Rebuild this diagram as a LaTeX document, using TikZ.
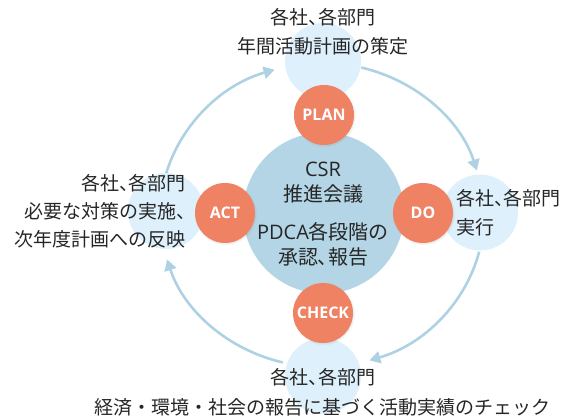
\documentclass[tikz,border=0pt]{standalone}
\usepackage{fontspec}
\setmainfont{Noto Sans CJK JP}
\newfontfamily\jpp[RawFeature=+palt]{Noto Sans CJK JP}
\newfontfamily\labfont{Open Sans}
\usetikzlibrary{arrows.meta,shadows}
\definecolor{orangeC}{HTML}{F08264}
\definecolor{coreC}{HTML}{B3D5E5}
\definecolor{paleC}{HTML}{DDF0FB}
\definecolor{arrowC}{HTML}{AED2E3}
\definecolor{txtC}{HTML}{262626}
\newcommand\tou{{\jpp 、}}
\begin{document}
\begin{tikzpicture}[x=1pt,y=1pt,
  pale/.style={circle,fill=paleC,minimum size=76pt,inner sep=0},
  core/.style={circle,fill=coreC,minimum size=161pt,inner sep=0},
  phase/.style={circle,fill=orangeC,minimum size=60pt,inner sep=0,text=white,
    font=\labfont\bfseries\fontsize{16}{16}\selectfont,
    circular drop shadow={shadow xshift=0.6pt,shadow yshift=-0.8pt,shadow scale=1.05,opacity=0.25}},
  cyc/.style={draw=arrowC,line width=2.6pt,-{Triangle[length=11pt,width=12pt]}},
  jt/.style={inner sep=0,text=txtC,font=\fontsize{19}{19}\selectfont},
  ct/.style={inner sep=0,text=txtC,font=\fontsize{20}{20}\selectfont},
]
\useasboundingbox (0,0) rectangle (573,419);
\coordinate (ring) at (322,204);
\draw[cyc] ([shift={(76:162 and 152)}]ring) arc[start angle=76,end angle=17,x radius=162pt,y radius=152pt];
\draw[cyc] ([shift={(-14:162 and 152)}]ring) arc[start angle=-14,end angle=-73,x radius=162pt,y radius=152pt];
\draw[cyc] ([shift={(256:162 and 152)}]ring) arc[start angle=256,end angle=197,x radius=162pt,y radius=152pt];
\draw[cyc] ([shift={(166:162 and 152)}]ring) arc[start angle=166,end angle=107,x radius=162pt,y radius=152pt];

\node[pale] (ptop) at (323,358) {};
\node[pale] (pright) at (480,206.5) {};
\node[pale] (pbot) at (323,43) {};
\node[pale] (pleft) at (166,208) {};

\node[core] (core) at (323.5,206) {};

\node[phase] (plan) at (324,304) {PLAN};
\node[phase] (do) at (423,206) {DO};
\node[phase] (check) at (323,106) {CHECK};
\node[phase] (act) at (225,206) {ACT};

\node[jt] (t1) at (323,402) {各社\tou 各部門};
\node[jt] (t2) at (323,373) {年間活動計画の策定};
\node[jt,anchor=east] (l1) at (186,236) {各社\tou 各部門};
\node[jt,anchor=east] (l2) at (186,208) {必要な対策の実施\tou};
\node[jt,anchor=east] (l3) at (186,180) {次年度計画への反映};
\node[jt,anchor=west] (r1) at (456,221) {各社\tou 各部門};
\node[jt,anchor=west] (r2) at (456,192) {実行};
\node[jt] (b1) at (323,42) {各社\tou 各部門};
\node[jt] (b2) at (322.5,12) {経済・環境・社会の報告に基づく活動実績のチェック};
\node[ct] (c1) at (323,249.5) {{\labfont CSR}};
\node[ct] (c2) at (323,225) {推進会議};
\node[ct] (c3) at (323,187) {{\labfont PDCA}各段階の};
\node[ct] (c4) at (323,162) {承認\tou 報告};
\end{tikzpicture}
\end{document}
